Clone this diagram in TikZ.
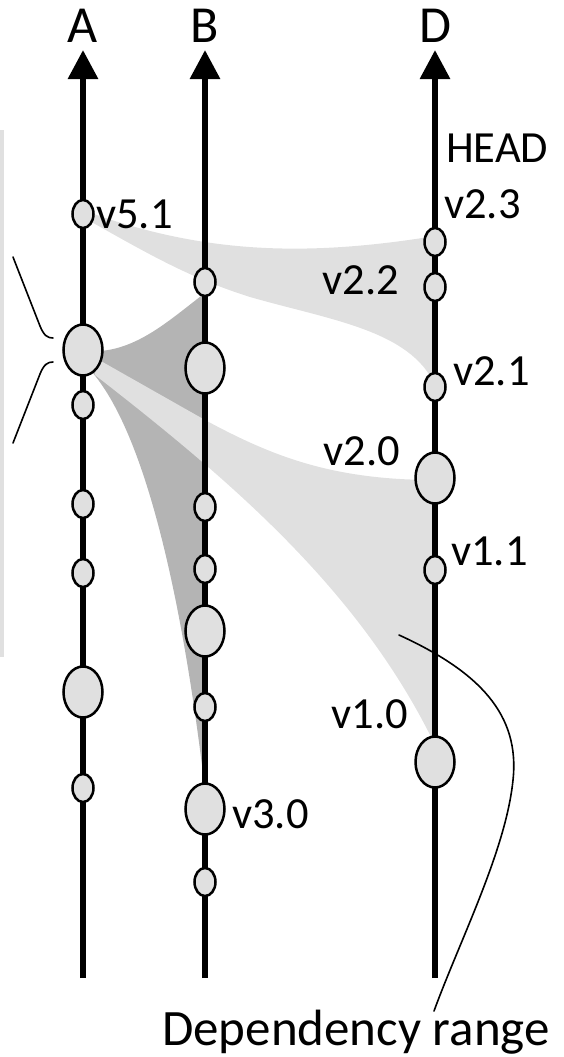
\documentclass[tikz,border=0pt]{standalone}
\usepackage{fontspec}
\setmainfont{Carlito}
\usetikzlibrary{shapes.geometric,arrows.meta}
\definecolor{lightfill}{HTML}{E0E0E0}
\definecolor{darkfill}{HTML}{B4B4B4}
\tikzset{
  vsmall/.style={ellipse, draw, line width=2.5pt, fill=lightfill, minimum width=21pt, minimum height=28pt, inner sep=0pt},
  vbig/.style={ellipse, draw, line width=2.5pt, fill=lightfill, minimum width=39pt, minimum height=51pt, inner sep=0pt},
  axisline/.style={line width=6pt, -{Triangle[length=29pt,width=29pt]}},
  axlabel/.style={font=\fontsize{52}{60}\selectfont, anchor=base, inner sep=0pt},
  vlabel/.style={font=\fontsize{44.5}{50}\selectfont, anchor=base, inner sep=0pt},
  callout/.style={line width=1.6pt, line cap=round}
}
\begin{document}
\begin{tikzpicture}[x=1pt,y=-1pt]
\useasboundingbox (0,0) rectangle (564,1057);
% left grey bar
\fill[lightfill] (0,130) rectangle (4,657);
% dark wedges
\fill[darkfill] (85,345) -- (100,351) .. controls (140,348) and (172,318) .. (205,293) -- (205,440) -- (85,365) -- cycle;
\fill[darkfill] (90,368) -- (205,455) -- (205,790) .. controls (185,620) and (150,440) .. (92,372) -- cycle;
% light bands
\fill[lightfill] (88,212) .. controls (200,252) and (300,258) .. (435,236) -- (435,385) .. controls (410,330) and (330,320) .. (250,297) .. controls (190,278) and (150,255) .. (88,220) -- cycle;
\fill[lightfill] (92,356) -- (205,420) .. controls (270,455) and (330,480) .. (435,480) -- (435,745) .. controls (360,590) and (230,480) .. (95,375) -- cycle;
% axes
\coordinate (Abot) at (83,978); \coordinate (Atop) at (83,50);
\coordinate (Bbot) at (205,978); \coordinate (Btop) at (205,50);
\coordinate (Dbot) at (435,978); \coordinate (Dtop) at (435,50);
\draw[axisline] (Abot) -- (Atop);
\draw[axisline] (Bbot) -- (Btop);
\draw[axisline] (Dbot) -- (Dtop);
\node[axlabel] (labA) at (83,43) {A};
\node[axlabel] (labB) at (205,43) {B};
\node[axlabel] (labD) at (435,43) {D};
% A versions
\node[vsmall] (a1) at (83,214) {};
\node[vbig]   (a2) at (83,350) {};
\node[vsmall] (a3) at (83,405) {};
\node[vsmall] (a4) at (83,504) {};
\node[vsmall] (a5) at (83,573) {};
\node[vbig]   (a6) at (83,692) {};
\node[vsmall] (a7) at (83,788) {};
% B versions
\node[vsmall] (b1) at (205,282) {};
\node[vbig]   (b2) at (205,368) {};
\node[vsmall] (b3) at (205,507) {};
\node[vsmall] (b4) at (205,569) {};
\node[vbig]   (b5) at (205,631) {};
\node[vsmall] (b6) at (205,707) {};
\node[vbig]   (b7) at (205,809) {};
\node[vsmall] (b8) at (205,882) {};
% D versions
\node[vsmall] (d1) at (435,242) {};
\node[vsmall] (d2) at (435,287) {};
\node[vsmall] (d3) at (435,387) {};
\node[vbig]   (d4) at (435,478) {};
\node[vsmall] (d5) at (435,570) {};
\node[vbig]   (d6) at (435,762) {};
% labels
\node[vlabel, anchor=base west] (head) at (446,162) {HEAD};
\node[vlabel, anchor=base west] (l23) at (444,218) {v2.3};
\node[vlabel, anchor=base east] (l22) at (399,294) {v2.2};
\node[vlabel, anchor=base west] (l21) at (453,385) {v2.1};
\node[vlabel, anchor=base east] (l20) at (400,465) {v2.0};
\node[vlabel, anchor=base west] (l11) at (451,565) {v1.1};
\node[vlabel, anchor=base east] (l10) at (408,728) {v1.0};
\node[vlabel, anchor=base west] (l51) at (96,228) {v5.1};
\node[vlabel, anchor=base west] (l30) at (232,828) {v3.0};
\node[axlabel, font=\fontsize{51}{60}\selectfont] (deprange) at (356,1045) {Dependency range};
% callouts
\coordinate (cs) at (399,635);
\coordinate (ce) at (434,1011);
\draw[callout] (cs) .. controls (480,672) and (520,715) .. (513,780) .. controls (506,850) and (460,940) .. (ce);
\coordinate (bt1) at (13,257); \coordinate (bt2) at (53,338);
\coordinate (bb1) at (53,362); \coordinate (bb2) at (13,443);
\draw[callout] (bt1) -- (40,326) .. controls (44,336) and (48,338) .. (bt2);
\draw[callout] (bb1) .. controls (48,362) and (44,364) .. (40,374) -- (bb2);
\end{tikzpicture}
\end{document}
